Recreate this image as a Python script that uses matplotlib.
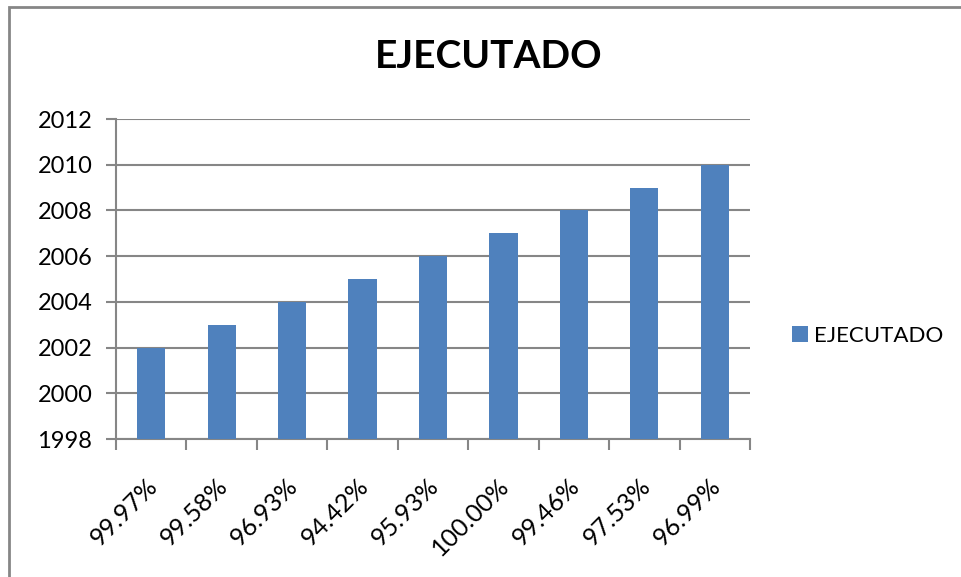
import matplotlib.pyplot as plt
from matplotlib.patches import Rectangle
from matplotlib.transforms import ScaledTranslation

# datos
categorias = ['99.97%', '99.58%', '96.93%', '94.42%', '95.93%',
              '100.00%', '99.46%', '97.53%', '96.99%']
ejecutado = [2002, 2003, 2004, 2005, 2006, 2007, 2008, 2009, 2010]
y_ticks = [1998, 2000, 2002, 2004, 2006, 2008, 2010, 2012]

plt.rcParams['font.family'] = ['Lato', 'DejaVu Sans']
gris = '#868686'
azul = '#4F81BD'

fig = plt.figure(figsize=(9.61, 5.77), dpi=100)
W, H = 961, 577
ax = fig.add_axes([116 / W, 1 - 439 / H, (750 - 116) / W, (439 - 119) / H])

x = list(range(len(categorias)))
base = y_ticks[0]
ax.bar(x, [v - base for v in ejecutado], bottom=base, width=0.4,
       color=azul, label='EJECUTADO', zorder=3)

ax.set_xlim(-0.5, len(categorias) - 0.5)
ax.set_ylim(y_ticks[0], y_ticks[-1])
ax.set_yticks(y_ticks)
ax.set_yticklabels([str(t) for t in y_ticks], fontsize=17)
ax.yaxis.grid(True, color=gris, linewidth=1.5, zorder=0)

# ticks del eje x en los bordes de cada categoría
ax.set_xticks([i - 0.5 for i in range(len(categorias) + 1)])
ax.set_xticklabels([])
ax.set_xticks(x, minor=True)
ax.set_xticklabels(categorias, minor=True, rotation=45, ha='right',
                   rotation_mode='anchor', fontsize=18)
ax.tick_params(axis='x', which='minor', length=0, pad=25)
ax.tick_params(axis='x', which='major', length=8, width=1.5, color=gris)
ax.tick_params(axis='y', length=7, width=1.5, color=gris, pad=10)
desplazar = ScaledTranslation(-6 / 100, 0, fig.dpi_scale_trans)
for etiqueta in ax.get_xticklabels(minor=True):
    etiqueta.set_transform(etiqueta.get_transform() + desplazar)

for lado in ['top', 'right']:
    ax.spines[lado].set_visible(False)
for lado in ['left', 'bottom']:
    ax.spines[lado].set_color(gris)
    ax.spines[lado].set_linewidth(1.5)

fig.text(489 / W, 1 - 57 / H, 'EJECUTADO', fontsize=28, fontweight='bold',
         ha='center', va='center')

fig.legend(loc='center left', bbox_to_anchor=(772 / W, 1 - 336 / H),
           frameon=False, fontsize=16, handlelength=0.7, handleheight=0.7,
           handletextpad=0.3)

# marco del área del gráfico
fig.patches.append(Rectangle((9 / W, -0.1), 1.1, 1 - 7 / H + 0.1,
                             transform=fig.transFigure, fill=False,
                             edgecolor=gris, linewidth=2))

fig.savefig('out.png', dpi=100)
